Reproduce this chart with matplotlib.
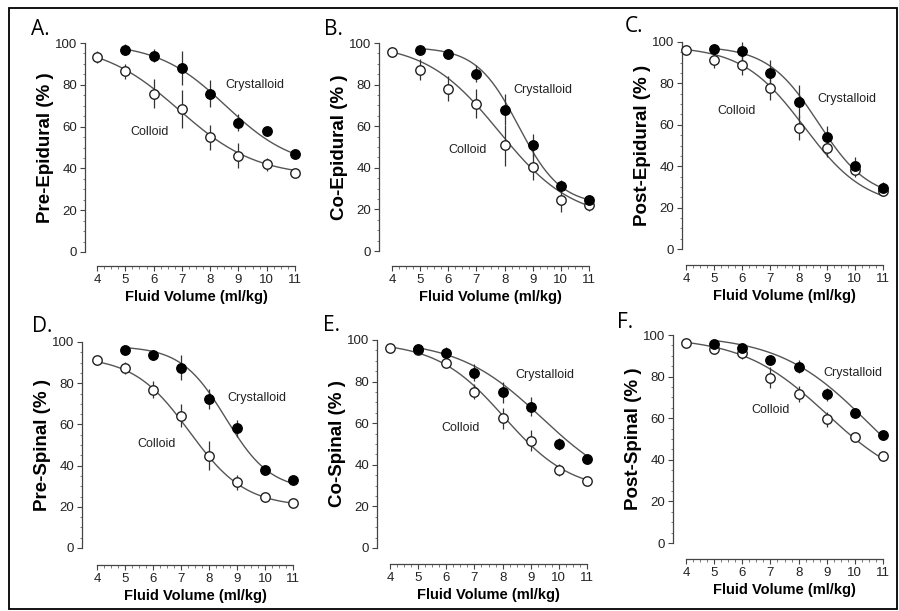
import numpy as np
import matplotlib
matplotlib.use("Agg")
import matplotlib.pyplot as plt
from matplotlib.ticker import MultipleLocator
from matplotlib.patches import Rectangle

plt.rcParams['font.family'] = ['Liberation Sans', 'DejaVu Sans']

x_cry = [5, 6, 7, 8, 9, 10, 11]
x_col = [4, 5, 6, 7, 8, 9, 10, 11]

letters = ["A.", "B.", "C.", "D.", "E.", "F."]
ylabels = ["Pre-Epidural (% )", "Co-Epidural (% )", "Post-Epidural (% )",
           "Pre-Spinal (% )", "Co-Spinal (% )", "Post-Spinal (% )"]

# crystalloid means / error bars
cry_A = [96.8, 93.9, 88.0, 75.7, 61.9, 57.9, 46.9]
cry_A_err = [2.5, 3, 8, 6.5, 4, 2, 1.5]
cry_B = [96.5, 94.9, 85.3, 68.0, 50.8, 31.1, 24.7]
cry_B_err = [2, 2, 4, 7.5, 5.5, 3, 2]
cry_C = [96.8, 95.7, 85.1, 71.1, 54.3, 40.3, 29.7]
cry_C_err = [2, 4.5, 6, 8, 5, 4, 2.5]
cry_D = [96.0, 93.5, 87.6, 72.3, 58.1, 37.9, 33.1]
cry_D_err = [1.5, 2, 6, 5, 4, 2, 2]
cry_E = [95.5, 93.9, 84.3, 74.9, 68.0, 50.1, 42.9]
cry_E_err = [1.5, 2.5, 4, 5, 4.5, 3, 2]
cry_F = [95.5, 93.9, 88.0, 84.8, 71.5, 62.7, 51.7]
cry_F_err = [1.5, 2, 2, 3, 3, 2, 1.5]

# colloid means / error bars
col_A = [93.3, 86.4, 75.7, 68.3, 54.9, 46.1, 41.9, 37.8]
col_A_err = [3, 3.5, 7, 9, 6, 6, 3, 1.5]
col_B = [95.7, 87.2, 78.0, 70.8, 50.8, 40.4, 24.4, 22.0]
col_B_err = [2.5, 5, 6, 7, 10, 6.5, 5.5, 3]
col_C = [96.3, 91.2, 89.1, 78.0, 58.6, 48.6, 38.0, 27.8]
col_C_err = [1, 4, 5, 6, 6, 4, 3, 2]
col_D = [91.1, 87.4, 76.9, 64.2, 44.8, 31.8, 24.7, 21.8]
col_D_err = [1, 3, 4, 5.5, 7, 3.5, 1.5, 1.5]
col_E = [96.0, 95.2, 88.8, 75.2, 62.4, 51.5, 37.6, 32.0]
col_E_err = [1, 1.5, 2, 3.5, 5, 5, 3, 1.5]
col_F = [96.0, 93.1, 91.5, 79.5, 71.7, 59.5, 50.9, 41.6]
col_F_err = [1, 2, 3, 5, 4, 3.5, 2, 2]

# sigmoid fit parameters: (top, bottom, x50, slope)
fit_cry = [(100, 40, 8.55, 1.2), (98, 22, 8.5, 0.75), (98, 24, 8.7, 0.9),
           (98, 28, 8.6, 0.8), (100, 25, 9.4, 1.5), (100, 15, 10.5, 1.6)]
fit_col = [(100, 36, 6.9, 1.37), (100, 15, 7.8, 1.3), (98, 20, 8.2, 1.1),
           (93, 20, 7.3, 1.0), (99, 27, 8.05, 1.2), (99, 25, 9.0, 1.5)]

# label positions (data coords)
cry_txt = [(9.58, 80), (9.37, 77.4), (9.73, 72.5), (9.71, 72.8), (9.51, 83.2), (9.94, 81.7)]
col_txt = [(5.87, 57.4), (6.67, 48.5), (5.81, 66.7), (6.14, 50.5), (6.49, 57.7), (6.99, 63.9)]

cry_all = [cry_A, cry_B, cry_C, cry_D, cry_E, cry_F]
cry_errs = [cry_A_err, cry_B_err, cry_C_err, cry_D_err, cry_E_err, cry_F_err]
col_all = [col_A, col_B, col_C, col_D, col_E, col_F]
col_errs = [col_A_err, col_B_err, col_C_err, col_D_err, col_E_err, col_F_err]

# axes boxes in pixels: left(x=4), right(x=11), top(y=100), bottom(y=0)
W, H = 899, 611
boxes = [(97, 295, 43, 252), (392, 589, 43, 251), (686, 883, 42, 249),
         (97, 293, 342, 548), (390, 587, 340, 548), (686, 883, 335, 543)]
# spine offsets in pixels
yoff = [12, 13, 4, 15, 13, 13]
xoff = [14, 15, 16, 17, 16, 16]
# letter positions in pixels (left, bottom)
let_pos = [(31, 40), (324, 40), (625, 37), (32, 337), (323, 336), (617, 333)]


def sigmoid(x, p):
    top, bot, x50, s = p
    return bot + (top - bot) / (1 + np.exp((x - x50) / s))


fig = plt.figure(figsize=(W / 100, H / 100), dpi=100)
fig.patches.append(Rectangle((9 / W, 1 - 609 / H), 888 / W, 601 / H,
                             transform=fig.transFigure, fill=False,
                             edgecolor='black', linewidth=1.3))

lc = '#555555'
for i in range(6):
    l, r, t, b = boxes[i]
    ax = fig.add_axes([l / W, 1 - b / H, (r - l) / W, (b - t) / H])
    ax.set_xlim(4, 11)
    ax.set_ylim(0, 100)

    xs = np.linspace(5, 11, 200)
    ax.plot(xs, sigmoid(xs, fit_cry[i]), color=lc, lw=1.0, clip_on=False, zorder=2)
    xs = np.linspace(4, 11, 200)
    ax.plot(xs, sigmoid(xs, fit_col[i]), color=lc, lw=1.0, clip_on=False, zorder=2)

    eb = ax.errorbar(x_col, col_all[i], yerr=col_errs[i], fmt='none', ecolor='#333333',
                     elinewidth=0.9, capsize=0, zorder=3)
    for c in eb.get_children():
        c.set_clip_on(False)
    eb = ax.errorbar(x_cry, cry_all[i], yerr=cry_errs[i], fmt='none', ecolor='#333333',
                     elinewidth=0.9, capsize=0, zorder=3)
    for c in eb.get_children():
        c.set_clip_on(False)
    ax.plot(x_col, col_all[i], 'o', ms=6.8, mfc='white', mec='#222222', mew=1.0,
            clip_on=False, zorder=4)
    ax.plot(x_cry, cry_all[i], 'o', ms=6.8, mfc='black', mec='black',
            clip_on=False, zorder=5)

    ax.text(cry_txt[i][0], cry_txt[i][1], "Crystalloid", fontsize=9, color='#222222',
            ha='center', va='center')
    ax.text(col_txt[i][0], col_txt[i][1], "Colloid", fontsize=9, color='#222222',
            ha='center', va='center')

    for s in ['top', 'right']:
        ax.spines[s].set_visible(False)
    ax.spines['left'].set_position(('outward', yoff[i] * 0.72))
    ax.spines['bottom'].set_position(('outward', xoff[i] * 0.72))
    ax.spines['left'].set_bounds(0, 100)
    ax.spines['bottom'].set_bounds(4, 11)
    for s in ['left', 'bottom']:
        ax.spines[s].set_color('#444444')
        ax.spines[s].set_linewidth(0.9)
    ax.set_xticks(range(4, 12))
    ax.set_yticks(range(0, 101, 20))
    ax.xaxis.set_minor_locator(MultipleLocator(0.25))
    ax.yaxis.set_minor_locator(MultipleLocator(5))
    ax.tick_params(which='major', length=3.5, width=0.8, color='#444444',
                   labelsize=9.5, labelcolor='#222222', pad=2)
    ax.tick_params(which='minor', length=1.8, width=0.6, color='#666666')
    ax.set_xlabel("Fluid Volume (ml/kg)", fontsize=10.5, fontweight='bold', labelpad=3)
    ax.set_ylabel(ylabels[i], fontsize=13.5, fontweight='bold', labelpad=1)
    ax.patch.set_visible(False)

    fig.text(let_pos[i][0] / W, 1 - let_pos[i][1] / H, letters[i], fontsize=15,
             family=['Open Sans', 'DejaVu Sans'], ha='left', va='bottom')

fig.savefig("out.png", dpi=100)
